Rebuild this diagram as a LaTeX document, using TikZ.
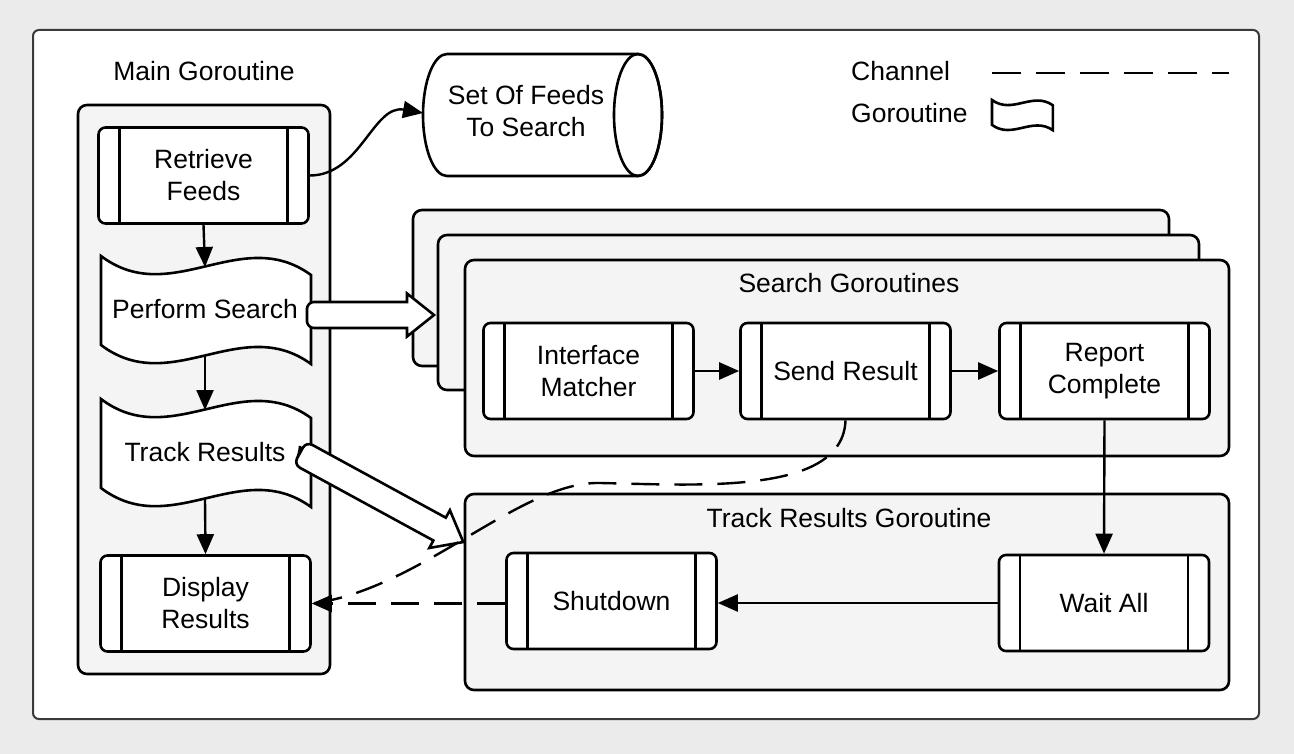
\documentclass[tikz,border=0pt]{standalone}
\usepackage{fontspec}
\setmainfont{Liberation Sans}
\usetikzlibrary{arrows.meta,calc}

\definecolor{canvas}{HTML}{EBEBEB}
\definecolor{panel}{HTML}{F4F4F4}
\definecolor{frame}{HTML}{3A3A3A}

\tikzset{
  lbl/.style={font=\fontsize{26.5}{32}\selectfont, align=center, inner sep=0pt},
  proc/.style={lbl, draw, fill=white, line width=2.6pt, rounded corners=7pt,
    minimum width=210pt, minimum height=96pt,
    path picture={
      \draw[line width=2.6pt] ([xshift=21pt]path picture bounding box.north west) -- ([xshift=21pt]path picture bounding box.south west);
      \draw[line width=2.6pt] ([xshift=-21pt]path picture bounding box.north east) -- ([xshift=-21pt]path picture bounding box.south east);}},
  panelbox/.style={draw, fill=panel, line width=2.6pt, rounded corners=9pt},
  goline/.style={draw, fill=white, line width=2.6pt},
  flow/.style={line width=2.4pt, -{Triangle[length=20pt,width=17pt]}},
  chan/.style={flow, dash pattern=on 28pt off 15pt},
}

% goroutine shape: top left x, y, xscale, yscale
\newcommand{\goshape}[4]{%
  \draw[goline, shift={(#1,#2)}, xscale=#3, yscale=#4]
    (0,0) .. controls (70,53) and (140,-32) .. (210,19) -- (210,108)
    .. controls (140,57) and (70,142) .. (0,89) -- cycle;}

% hollow block arrow: tail, angle, length
\newcommand{\blockarrow}[3]{%
  \draw[goline, shift={(#1)}, rotate=#2]
    (0,0) [rounded corners=7pt] -- (0,-13) -- (#3/2,-13) [sharp corners]
    -- (#3-27,-13) -- (#3-27,-21.5) -- (#3,0) -- (#3-27,21.5) -- (#3-27,13)
    -- (#3/2,13) [rounded corners=7pt] -- (0,13) -- (0,0) [sharp corners] -- cycle;}

\begin{document}
\begin{tikzpicture}[x=1pt, y=-1pt]
\useasboundingbox (0,0) rectangle (1294,754);
\fill[canvas] (0,0) rectangle (1294,754);
\draw[frame, fill=white, line width=2pt, rounded corners=6pt] (33,30) rectangle (1259,719);

% main goroutine
\node[lbl] (mainlbl) at (204,71) {Main Goroutine};
\draw[panelbox] (78,105) rectangle (330,674);

% search goroutines
\draw[panelbox] (413,210) rectangle (1169,366);
\draw[panelbox] (438,235) rectangle (1199,390);
\draw[panelbox] (465,260) rectangle (1229,456);
\node[lbl] (searchlbl) at (849,283) {Search Goroutines};

% track results goroutine
\draw[panelbox] (465,494) rectangle (1229,690);
\node[lbl] (tracklbl) at (849,518) {Track Results Goroutine};

% legend
\node[lbl, anchor=west] (chanlbl) at (851,71) {Channel};
\node[lbl, anchor=west] (golbl) at (851,113) {Goroutine};
\coordinate (chan0) at (992,73);
\coordinate (chan1) at (1229,73);
\draw[line width=2.6pt, dash pattern=on 29pt off 15pt] (chan0) -- (chan1);
\goshape{992}{100}{0.29}{0.28}

% feeds store
\draw[goline] (447,54) -- (638,54) arc[start angle=-90, end angle=90, x radius=24, y radius=61]
  -- (447,176) arc[start angle=90, end angle=270, x radius=24, y radius=61] -- cycle;
\draw[line width=2.6pt] (638,115) ellipse [x radius=24, y radius=61];
\node[lbl] (feeds) at (526,111) {Set Of Feeds\\To Search};
\coordinate (feeds-in) at (423,113);

% main steps
\node[proc] (rf) at (203.5,175.5) {Retrieve\\Feeds};
\goshape{101}{256}{1}{1}
\node[lbl] (ps) at (205,309) {Perform Search};
\coordinate (ps-top) at (205,267);
\coordinate (ps-bot) at (205,356);
\goshape{101}{399}{1}{1}
\node[lbl] (tr) at (205,452) {Track Results};
\coordinate (tr-top) at (205,410);
\coordinate (tr-bot) at (205,499);
\node[proc] (dr) at (205.5,603.5) {Display\\Results};

% search and track steps
\node[proc] (im) at (588.5,371) {Interface\\Matcher};
\node[proc] (sr) at (845.5,371) {Send Result};
\node[proc] (rc) at (1104.5,371) {Report\\Complete};
\node[proc] (sd) at (611.5,601) {Shutdown};
\node[proc] (wa) at (1104,603) {Wait All};

\coordinate (ps-tail) at (307,315);
\coordinate (tr-tail) at (300,453);
\blockarrow{ps-tail}{0}{127}
\blockarrow{tr-tail}{-28.6}{186}

\draw[flow] (rf.south) -- (ps-top);
\draw[flow] (ps-bot) -- (tr-top);
\draw[flow] (tr-bot) -- (dr.north);
\draw[flow] (rf.east) to[out=0, in=170] (feeds-in);
\draw[flow] (im.east) -- (sr.west);
\draw[flow] (sr.east) -- (rc.west);
\draw[flow] (rc.south) -- (wa.north);
\draw[flow] (wa.west) -- (wa.west -| sd.east);
\draw[chan] (sd.west |- dr.east) -- (dr.east);
\draw[line width=2.4pt, dash pattern=on 28pt off 15pt] (sr.south)
  .. controls (843,495) and (700,485) .. (600,483)
  .. controls (520,481) and (420,590) .. (dr.east);

\end{tikzpicture}
\end{document}
